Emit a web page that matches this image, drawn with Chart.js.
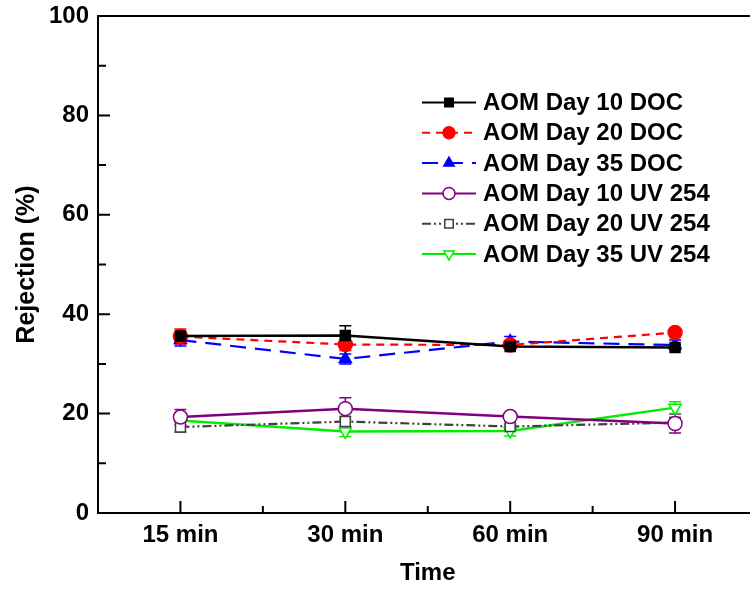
<!DOCTYPE html>
<html>
<head>
<meta charset="utf-8">
<script src="https://cdn.jsdelivr.net/npm/chart.js@4/dist/chart.umd.min.js"></script>
<style>
html, body { margin: 0; padding: 0; background: #fff; overflow: hidden; }
#wrap { width: 766px; height: 592px; }
</style>
</head>
<body>
<div id="wrap"><canvas id="c" width="766" height="592"></canvas></div>
<script>
// data
const times = ["15 min", "30 min", "60 min", "90 min"];
const yTicks = [0, 20, 40, 60, 80, 100];

const day10Doc = [35.6, 35.7, 33.5, 33.3];
const day20Doc = [35.5, 33.9, 33.8, 36.3];
const day35Doc = [34.8, 31.0, 34.5, 33.8];
const day10Uv = [19.3, 21.0, 19.4, 18.0];
const day20Uv = [17.3, 18.4, 17.4, 18.2];
const day35Uv = [18.6, 16.4, 16.5, 21.2];

const err10Doc = [0.8, 2.0, 0.5, 0.5];
const err20Doc = [1.5, 1.2, 0.5, 0.5];
const err35Doc = [1.2, 1.0, 1.0, 1.0];
const err10Uv = [1.5, 2.2, 0.5, 1.9];
const err20Uv = [1.0, 1.0, 0.5, 1.0];
const err35Uv = [1.0, 1.0, 1.0, 1.2];

const FONT = "Arial, 'Liberation Sans', sans-serif";

function serie(label, data, err, color, fill, style, dash, width, rot) {
  return {
    label: label,
    data: data,
    err: err,
    borderColor: color,
    backgroundColor: fill,
    borderWidth: width,
    borderDash: dash,
    tension: 0,
    pointStyle: style,
    pointRotation: rot || 0,
    pointRadius: 7,
    pointBorderWidth: 1.5,
    pointBorderColor: color,
    pointBackgroundColor: fill
  };
}

const datasets = [
  serie("AOM Day 10 DOC", day10Doc, err10Doc, "#000000", "#000000", "rect", [], 2.5),
  serie("AOM Day 20 DOC", day20Doc, err20Doc, "#ff0000", "#ff0000", "circle", [8, 6], 2.2),
  serie("AOM Day 35 DOC", day35Doc, err35Doc, "#0000ff", "#0000ff", "triangle", [16, 9], 2.2),
  serie("AOM Day 10 UV 254", day10Uv, err10Uv, "#800080", "#ffffff", "circle", [], 2.5),
  serie("AOM Day 20 UV 254", day20Uv, err20Uv, "#404040", "#ffffff", "rect", [9, 3, 2, 3, 2, 3], 2.2),
  serie("AOM Day 35 UV 254", day35Uv, err35Uv, "#00ee00", "#ffffff", "triangle", [], 2.5, 180)
];

/* barras de error */
const errorBars = {
  id: "errorBars",
  beforeDatasetsDraw(chart) {
    const ctx = chart.ctx;
    const x = chart.scales.x, y = chart.scales.y;
    ctx.save();
    chart.data.datasets.forEach(ds => {
      ctx.strokeStyle = ds.borderColor;
      ctx.lineWidth = 1.5;
      ds.data.forEach((v, i) => {
        const px = x.getPixelForValue(i);
        const top = y.getPixelForValue(v + ds.err[i]);
        const bot = y.getPixelForValue(v - ds.err[i]);
        ctx.beginPath();
        ctx.moveTo(px, top); ctx.lineTo(px, bot);
        ctx.moveTo(px - 6, top); ctx.lineTo(px + 6, top);
        ctx.moveTo(px - 6, bot); ctx.lineTo(px + 6, bot);
        ctx.stroke();
      });
    });
    ctx.restore();
  }
};

/* ejes: ticks hacia dentro, marco superior */
const frame = {
  id: "frame",
  afterDraw(chart) {
    const ctx = chart.ctx;
    const a = chart.chartArea;
    const x = chart.scales.x, y = chart.scales.y;
    ctx.save();
    ctx.strokeStyle = "#000";
    ctx.lineWidth = 2;
    ctx.beginPath();
    ctx.moveTo(a.left - 1, a.top); ctx.lineTo(a.right, a.top);
    for (let v = 0; v <= 100; v += 10) {
      const py = y.getPixelForValue(v);
      ctx.moveTo(a.left, py); ctx.lineTo(a.left + (v % 20 === 0 ? 12 : 8), py);
    }
    for (let i = 0; i < times.length; i++) {
      const px = x.getPixelForValue(i);
      ctx.moveTo(px, a.bottom); ctx.lineTo(px, a.bottom - 12);
      if (i < times.length - 1) {
        const mx = (px + x.getPixelForValue(i + 1)) / 2;
        ctx.moveTo(mx, a.bottom); ctx.lineTo(mx, a.bottom - 7);
      }
    }
    ctx.stroke();
    ctx.restore();
  }
};

/* leyenda dentro del grafico */
const legendBox = {
  id: "legendBox",
  afterDraw(chart) {
    const ctx = chart.ctx;
    ctx.save();
    ctx.font = "bold 24px " + FONT;
    ctx.textBaseline = "middle";
    chart.data.datasets.forEach((ds, i) => {
      const yy = 102.5 + i * 30.3;
      ctx.strokeStyle = ds.borderColor;
      ctx.lineWidth = 2;
      ctx.setLineDash(ds.borderDash);
      ctx.beginPath();
      ctx.moveTo(422, yy); ctx.lineTo(476, yy);
      ctx.stroke();
      ctx.setLineDash([]);
      ctx.fillStyle = ds.pointBackgroundColor;
      ctx.strokeStyle = ds.pointBorderColor;
      ctx.lineWidth = 1.5;
      Chart.helpers.drawPoint(ctx, {
        pointStyle: ds.pointStyle, radius: 6, rotation: ds.pointRotation, borderWidth: 1.5
      }, 449, yy);
      ctx.fillStyle = "#000";
      ctx.fillText(ds.label, 483, yy + 1);
    });
    ctx.restore();
  }
};

new Chart(document.getElementById("c"), {
  type: "line",
  data: { labels: times, datasets: datasets },
  options: {
    responsive: false,
    animation: false,
    layout: { padding: { left: 8, top: 16, right: 3, bottom: 0 } },
    plugins: { legend: { display: false }, tooltip: { enabled: false } },
    scales: {
      x: {
        type: "category",
        offset: true,
        grid: { display: false, drawTicks: false },
        border: { display: true, color: "#000", width: 2 },
        ticks: { color: "#000", padding: 8, font: { family: FONT, size: 24, weight: "bold" } },
        title: { display: true, text: "Time", color: "#000", font: { family: FONT, size: 24, weight: "bold" } },
        afterFit(s) { s.height = 79; s.paddingLeft = 0; s.paddingRight = 0; }
      },
      y: {
        min: 0,
        max: 100,
        afterBuildTicks(s) { s.ticks = yTicks.map(v => ({ value: v })); },
        grid: { display: false, drawTicks: false },
        border: { display: true, color: "#000", width: 2 },
        ticks: { color: "#000", padding: 9, font: { family: FONT, size: 24, weight: "bold" } },
        title: { display: true, text: "Rejection (%)", color: "#000", font: { family: FONT, size: 25, weight: "bold" } },
        afterFit(s) { s.width = 90; s.paddingTop = 0; s.paddingBottom = 0; }
      }
    }
  },
  plugins: [errorBars, frame, legendBox]
});
</script>
</body>
</html>
